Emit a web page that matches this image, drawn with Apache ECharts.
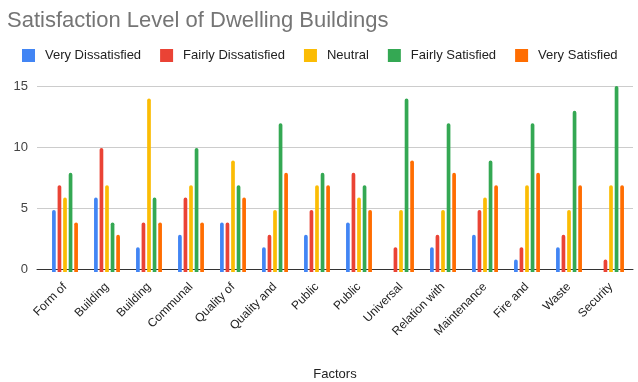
<!DOCTYPE html>
<html>
<head>
<meta charset="utf-8">
<script src="https://cdn.jsdelivr.net/npm/echarts@6/dist/echarts.min.js"></script>
<style>
  html, body { margin: 0; padding: 0; background: #ffffff; }
  #chart { width: 638px; height: 382px; }
</style>
</head>
<body>
<div id="chart"></div>
<script>
// Factor names as shown under each group
const categories = ['Form of', 'Building', 'Building', 'Communal', 'Quality of', 'Quality and', 'Public', 'Public', 'Universal', 'Relation with', 'Maintenance', 'Fire and', 'Waste', 'Security'];

// Number of responses per satisfaction level
const veryDissatisfied   = [5, 6, 2, 3, 4, 2, 3, 4, 0, 2, 3, 1, 2, 0];
const fairlyDissatisfied = [7, 10, 4, 6, 4, 3, 5, 8, 2, 3, 5, 2, 3, 1];
const neutral            = [6, 7, 14, 7, 9, 5, 7, 6, 5, 5, 6, 7, 5, 7];
const fairlySatisfied    = [8, 4, 6, 10, 7, 12, 8, 7, 14, 12, 9, 12, 13, 15];
const verySatisfied      = [4, 3, 4, 4, 6, 8, 7, 5, 9, 8, 7, 8, 7, 7];

const yTicks = [0, 5, 10, 15];

const seriesNames = ['Very Dissatisfied', 'Fairly Dissatisfied', 'Neutral', 'Fairly Satisfied', 'Very Satisfied'];
const seriesValues = [veryDissatisfied, fairlyDissatisfied, neutral, fairlySatisfied, verySatisfied];
const colors = ['#4285F4', '#EA4335', '#FBBC04', '#34A853', '#FF6D01'];

const FONT = 'Liberation Sans, Arial, sans-serif';

const chart = echarts.init(document.getElementById('chart'), null, { renderer: 'canvas' });

chart.setOption({
  animation: false,
  color: colors,
  title: {
    text: 'Satisfaction Level of Dwelling Buildings',
    left: 7,
    top: 10,
    padding: 0,
    textStyle: { fontFamily: FONT, fontSize: 22, fontWeight: 'normal', color: '#757575' }
  },
  legend: {
    data: seriesNames,
    left: 22,
    top: 49,
    padding: 0,
    icon: 'rect',
    itemWidth: 13,
    itemHeight: 13,
    itemGap: 19,
    textStyle: { fontFamily: FONT, fontSize: 13, color: '#222222', padding: [0, 0, 0, 5] }
  },
  grid: [
    // background grid: gridlines, baseline and y labels
    { left: 37, right: 5, top: 86, bottom: 110, containLabel: false },
    // bar grid
    { left: 44, right: 6, top: 86, bottom: 110, containLabel: false }
  ],
  xAxis: [
    {
      gridIndex: 0,
      type: 'category',
      data: categories,
      axisLine: { show: true, lineStyle: { color: '#333333', width: 1 } },
      axisTick: { show: false },
      axisLabel: { show: false },
      splitLine: { show: false },
      name: 'Factors',
      nameLocation: 'middle',
      nameGap: 99,
      nameTextStyle: { fontFamily: FONT, fontSize: 13, color: '#222222' }
    },
    {
      gridIndex: 1,
      type: 'category',
      data: categories,
      axisLine: { show: false },
      axisTick: { show: false },
      axisLabel: {
        rotate: 45,
        margin: 13,
        interval: 0,
        fontFamily: FONT,
        fontSize: 12,
        color: '#222222'
      }
    }
  ],
  yAxis: [
    {
      gridIndex: 0,
      type: 'value',
      min: yTicks[0],
      max: yTicks[yTicks.length - 1],
      interval: 5,
      axisLine: { show: false },
      axisTick: { show: false },
      axisLabel: { margin: 9, fontFamily: FONT, fontSize: 13, color: '#444444' },
      splitLine: { lineStyle: { color: '#cccccc', width: 1 } }
    },
    {
      gridIndex: 1,
      type: 'value',
      min: yTicks[0],
      max: yTicks[yTicks.length - 1],
      interval: 5,
      show: false
    }
  ],
  series: seriesNames.map((name, i) => ({
    name: name,
    type: 'bar',
    xAxisIndex: 1,
    yAxisIndex: 1,
    data: seriesValues[i],
    barWidth: 3.7,
    barGap: '50%',
    itemStyle: { color: colors[i], borderRadius: [2, 2, 0, 0] },
    z: 3
  }))
});
</script>
</body>
</html>
